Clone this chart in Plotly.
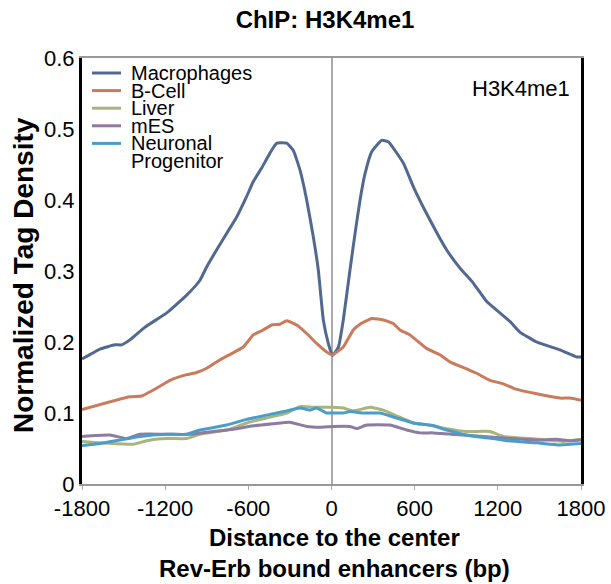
import plotly.graph_objects as go

# ---- data ----
mac_x = [-1800, -1670, -1562, -1514, -1454, -1345, -1189, -1045, -949, -900, -828, -756, -684, -612, -564,
         -504, -444, -395, -323, -276, -227, -179, -131, -95, -59, -23, 6, 50, 85, 133, 170, 206, 242, 290,
         362, 410, 518, 590, 686, 830, 927, 1023, 1120, 1287, 1359, 1480, 1648, 1769, 1800]
mac_y = [0.176, 0.190, 0.196, 0.196, 0.203, 0.221, 0.241, 0.266, 0.287, 0.306, 0.330, 0.353, 0.376, 0.405, 0.426,
         0.445, 0.466, 0.480, 0.480, 0.470, 0.442, 0.400, 0.348, 0.301, 0.231, 0.198, 0.181, 0.193, 0.231, 0.301,
         0.353, 0.400, 0.437, 0.468, 0.484, 0.482, 0.452, 0.419, 0.381, 0.330, 0.304, 0.283, 0.257, 0.229, 0.214,
         0.200, 0.189, 0.179, 0.179]

bcell_x = [-1800, -1454, -1370, -1261, -1165, -1045, -973, -900, -804, -636, -564, -492, -432, -372, -323,
           -251, -179, -107, -35, 6, 85, 157, 206, 290, 374, 446, 494, 566, 686, 782, 855, 987, 1047, 1143,
           1240, 1324, 1480, 1648, 1720, 1800]
bcell_y = [0.105, 0.123, 0.124, 0.135, 0.146, 0.154, 0.157, 0.163, 0.175, 0.193, 0.210, 0.217, 0.224, 0.225, 0.230,
           0.224, 0.212, 0.198, 0.186, 0.182, 0.193, 0.217, 0.225, 0.233, 0.231, 0.226, 0.217, 0.210, 0.191, 0.182,
           0.172, 0.161, 0.156, 0.146, 0.141, 0.134, 0.127, 0.121, 0.121, 0.118]

liver_x = [-1800, -1670, -1430, -1334, -1189, -1045, -949, -756, -612, -468, -323, -227, -131, 13, 85, 157,
           278, 374, 470, 590, 710, 830, 975, 1143, 1240, 1432, 1552, 1672, 1800]
liver_y = [0.060, 0.058, 0.056, 0.061, 0.064, 0.064, 0.070, 0.076, 0.086, 0.093, 0.100, 0.109, 0.108, 0.108, 0.107,
           0.103, 0.108, 0.104, 0.096, 0.086, 0.083, 0.078, 0.074, 0.074, 0.067, 0.064, 0.062, 0.060, 0.063]

mes_x = [-1800, -1598, -1478, -1382, -1189, -1021, -853, -708, -564, -420, -299, -179, -83, 13, 133, 181, 254,
         422, 542, 638, 734, 951, 1095, 1287, 1480, 1624, 1720, 1800]
mes_y = [0.067, 0.069, 0.064, 0.070, 0.070, 0.070, 0.074, 0.077, 0.082, 0.085, 0.087, 0.081, 0.080, 0.081, 0.081,
         0.078, 0.083, 0.083, 0.076, 0.072, 0.072, 0.069, 0.067, 0.064, 0.062, 0.063, 0.061, 0.062]

np_x = [-1800, -1670, -1526, -1382, -1189, -1045, -949, -756, -612, -468, -323, -227, -155, -107, -35, 13, 85,
        133, 230, 350, 470, 590, 734, 830, 999, 1167, 1263, 1480, 1648, 1800]
np_y = [0.054, 0.057, 0.062, 0.067, 0.070, 0.070, 0.076, 0.083, 0.091, 0.097, 0.103, 0.107, 0.104, 0.107, 0.100,
        0.100, 0.100, 0.102, 0.100, 0.100, 0.093, 0.086, 0.082, 0.076, 0.068, 0.064, 0.061, 0.058, 0.055, 0.057]

series_names = ["Macrophages", "B-Cell", "Liver", "mES", "Neuronal Progenitor"]
legend_lines = [["Macrophages"], ["B-Cell"], ["Liver"], ["mES"], ["Neuronal", "Progenitor"]]
series_colors = ["#52698f", "#c97b5c", "#a9b47c", "#8e7ba0", "#4b9dc9"]
x_ticks = [-1800, -1200, -600, 0, 600, 1200, 1800]
y_ticks = [0, 0.1, 0.2, 0.3, 0.4, 0.5, 0.6]
y_tick_labels = ["0", "0.1", "0.2", "0.3", "0.4", "0.5", "0.6"]

FONT = "Liberation Sans, Arial, Helvetica, sans-serif"

# the page body margin is removed (see post_script), so the figure fills the window
W, H = 611, 584
# plot area in window pixels: x 82..581, y 58..484
L, T = 82, 58
R = W - 581
B = H - 484
PW, PH = W - L - R, H - T - B


def px_x(p):  # window pixel -> paper x
    return (p - L) / PW


def px_y(p):  # window pixel -> paper y
    return (H - B - p) / PH


fig = go.Figure()
for xs, ys, name, color in zip([mac_x, bcell_x, liver_x, mes_x, np_x],
                               [mac_y, bcell_y, liver_y, mes_y, np_y],
                               series_names, series_colors):
    fig.add_trace(go.Scatter(x=xs, y=ys, mode="lines", name=name, showlegend=False,
                             line=dict(color=color, width=3, shape="spline", smoothing=0.4)))

annotations = []
shapes = []
# compact legend (top-left, inside the plot), drawn as sample lines + labels
leg_y0 = 73
leg_step = 17.6
row = 0
for lines, color in zip(legend_lines, series_colors):
    yy = leg_y0 + row * leg_step
    shapes.append(dict(type="line", xref="paper", yref="paper",
                       x0=px_x(92), x1=px_x(121), y0=px_y(yy), y1=px_y(yy),
                       line=dict(color=color, width=3)))
    for k, txt in enumerate(lines):
        annotations.append(dict(text=txt, xref="paper", yref="paper", x=px_x(129), y=px_y(yy + k * leg_step),
                                xanchor="left", yanchor="middle", showarrow=False,
                                font=dict(size=20, family=FONT, color="black")))
    row += len(lines)

annotations += [
    dict(text="H3K4me1", x=px_x(572), y=px_y(88), xref="paper", yref="paper",
         xanchor="right", yanchor="middle", showarrow=False, font=dict(size=22, family=FONT)),
    dict(text="<b>Normalized Tag Density</b>", x=px_x(23), y=px_y(275), xref="paper", yref="paper",
         xanchor="center", yanchor="middle", showarrow=False, textangle=-90,
         font=dict(size=28, family=FONT)),
    dict(text="<b>Distance to the center<br>Rev-Erb bound enhancers (bp)</b>", x=px_x(334), y=px_y(553),
         xref="paper", yref="paper", xanchor="center", yanchor="middle", showarrow=False,
         font=dict(size=24, family=FONT)),
]

fig.update_layout(
    width=W, height=H,
    margin=dict(l=L, r=R, t=T, b=B),
    paper_bgcolor="white", plot_bgcolor="white",
    font=dict(family=FONT, color="black", size=22),
    title=dict(text="<b>ChIP: H3K4me1</b>", x=325 / W, xanchor="center",
               y=1 - 19.5 / H, yanchor="middle", font=dict(size=24, family=FONT)),
    showlegend=False,
    xaxis=dict(range=[-1800, 1800], tickvals=x_ticks, ticktext=[str(v) for v in x_ticks],
               showgrid=False, zeroline=True, zerolinecolor="#aaaaaa", zerolinewidth=2,
               showline=True, linecolor="#999999", linewidth=2,
               mirror=True, ticks="outside", ticklen=4, tickcolor="#aaaaaa",
               tickfont=dict(size=22), automargin=False),
    yaxis=dict(range=[0, 0.6], tickvals=y_ticks, ticktext=y_tick_labels,
               showgrid=False, zeroline=False, showline=True, linecolor="black", linewidth=3,
               mirror=True, ticks="", tickfont=dict(size=22), automargin=False),
    yaxis2=dict(overlaying="y", anchor="free", position=0.5, matches="y", range=[0, 0.6],
                tickvals=y_ticks, showticklabels=False, showgrid=False, zeroline=False,
                showline=True, linecolor="#aaaaaa", linewidth=2, ticks="outside", ticklen=4,
                tickcolor="#aaaaaa", automargin=False),
    annotations=annotations,
    shapes=shapes,
)

fig.write_html("out.html", config={"displayModeBar": False},
               post_script="document.body.style.margin='0';document.body.style.overflow='hidden';")
